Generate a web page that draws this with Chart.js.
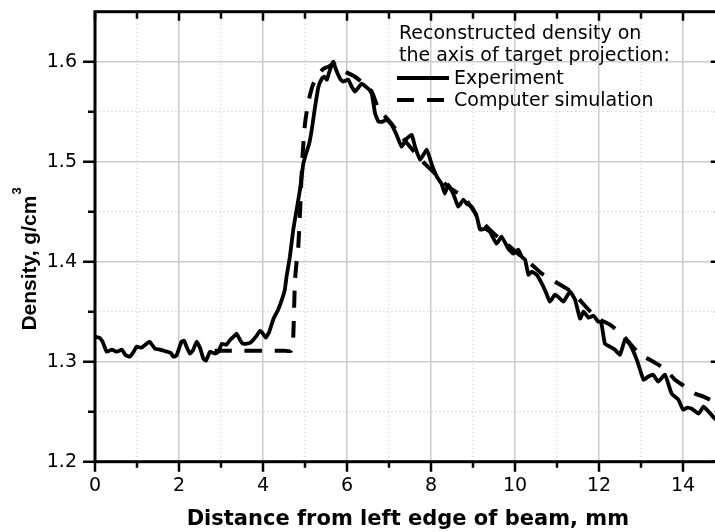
<!DOCTYPE html>
<html>
<head>
<meta charset="utf-8">
<script src="https://cdn.jsdelivr.net/npm/chart.js@4/dist/chart.umd.min.js"></script>
<style>
  html, body { margin:0; padding:0; overflow:hidden; background:#fff; }
  #wrap { width:724px; height:532px; position:relative; }
</style>
</head>
<body>
<div id="wrap"><canvas id="c"></canvas></div>
<script>
// ---- data ----
const expX = [0.0,0.1,0.18,0.28,0.40,0.52,0.64,0.72,0.83,0.92,0.99,1.11,1.20,1.30,1.43,1.55,1.71,1.80,1.87,1.94,
  2.06,2.12,2.18,2.26,2.34,2.42,2.50,2.58,2.64,2.74,2.86,2.94,3.02,3.13,3.22,3.30,3.37,3.45,3.52,3.61,3.70,3.77,3.85,3.93,
  4.00,4.07,4.15,4.25,4.36,4.45,4.52,4.56,4.64,4.72,4.80,4.88,4.96,5.04,5.10,5.16,5.24,5.32,5.40,5.46,5.52,5.58,5.67,5.73,
  5.79,5.85,5.91,6.03,6.10,6.19,6.27,6.35,6.45,6.53,6.59,6.67,6.75,6.85,6.94,7.06,7.18,7.30,7.42,7.54,7.62,7.74,7.90,
  8.02,8.14,8.25,8.33,8.41,8.53,8.65,8.77,8.85,8.97,9.09,9.17,9.29,9.40,9.56,9.68,9.84,9.96,10.08,10.16,10.24,10.32,10.40,
  10.52,10.64,10.73,10.83,10.95,11.05,11.15,11.31,11.43,11.55,11.63,11.75,11.87,11.98,12.05,12.14,12.26,12.38,12.50,12.62,
  12.74,12.90,13.06,13.17,13.29,13.41,13.57,13.73,13.89,14.00,14.10,14.21,14.37,14.49,14.61,14.76,14.85];
const expY = [1.325,1.324,1.320,1.310,1.312,1.310,1.312,1.307,1.305,1.310,1.315,1.314,1.317,1.320,1.313,1.312,1.310,1.309,1.305,1.306,
  1.320,1.321,1.315,1.308,1.312,1.320,1.314,1.303,1.301,1.310,1.308,1.310,1.318,1.317,1.322,1.325,1.328,1.322,1.318,1.318,1.319,1.322,1.326,1.331,
  1.328,1.324,1.330,1.343,1.352,1.362,1.372,1.385,1.405,1.432,1.452,1.472,1.498,1.510,1.518,1.532,1.555,1.575,1.583,1.585,1.582,1.590,1.600,1.593,
  1.587,1.582,1.580,1.582,1.576,1.570,1.574,1.578,1.575,1.572,1.568,1.548,1.540,1.540,1.542,1.537,1.527,1.515,1.523,1.527,1.515,1.502,1.512,
  1.497,1.485,1.478,1.468,1.477,1.468,1.455,1.462,1.458,1.455,1.445,1.432,1.433,1.430,1.418,1.425,1.413,1.408,1.412,1.405,1.402,1.387,1.390,
  1.387,1.378,1.370,1.360,1.367,1.364,1.360,1.370,1.362,1.343,1.350,1.344,1.346,1.340,1.340,1.318,1.315,1.312,1.307,1.322,
  1.317,1.302,1.282,1.285,1.287,1.280,1.287,1.268,1.262,1.252,1.254,1.253,1.248,1.255,1.250,1.243,1.240];

const simX = [2.85,3.5,4.0,4.5,4.68,4.72,4.76,4.80,4.84,4.88,4.94,5.00,5.06,5.12,5.20,5.32,5.44,5.56,5.68,5.80,5.95,
  6.19,6.40,6.59,6.75,7.02,7.30,7.60,7.85,8.10,8.40,8.77,9.17,9.50,9.80,10.10,10.40,10.64,10.95,11.27,11.47,11.75,11.98,
  12.26,12.58,12.70,13.01,13.21,13.41,13.61,13.81,14.05,14.29,14.49,14.73,14.85];
const simY = [1.311,1.311,1.311,1.311,1.311,1.325,1.380,1.400,1.415,1.448,1.505,1.538,1.555,1.567,1.578,1.587,1.593,1.595,1.598,1.594,1.590,
  1.585,1.578,1.570,1.553,1.540,1.525,1.510,1.498,1.488,1.475,1.465,1.442,1.428,1.418,1.407,1.397,1.388,1.380,1.372,1.365,1.352,1.343,
  1.337,1.326,1.320,1.306,1.302,1.297,1.291,1.282,1.275,1.268,1.265,1.260,1.257];

const seriesNames = ['Experiment', 'Computer simulation'];
const legendHeader = ['Reconstructed density on', 'the axis of target projection:'];
const xTitle = 'Distance from left edge of beam, mm';
const yTitleMain = 'Density, g/cm';
const yTitleSup = '3';
const xMinorTicks = [1,3,5,7,9,11,13];
const yMinorTicks = [1.25,1.35,1.45,1.55];
const xAllTicks = [0,1,2,3,4,5,6,7,8,9,10,11,12,13,14];
const yAllTicks = [1.2,1.25,1.3,1.35,1.4,1.45,1.5,1.55,1.6];

const expData = expX.map((x,i)=>({x, y: expY[i]}));
const simData = simX.map((x,i)=>({x, y: simY[i]}));

const TEXT_FONT = 'DejaVu Sans';

const decor = {
  id: 'decor',
  beforeDatasetsDraw(chart) {
    const {ctx, chartArea: a, scales: {x, y}} = chart;
    ctx.save();
    ctx.strokeStyle = '#cfcfcf';
    ctx.lineWidth = 1;
    ctx.setLineDash([1.5, 2.5]);
    ctx.beginPath();
    xMinorTicks.forEach(v => { const p = x.getPixelForValue(v); ctx.moveTo(p, a.top); ctx.lineTo(p, a.bottom); });
    yMinorTicks.forEach(v => { const p = y.getPixelForValue(v); ctx.moveTo(a.left, p); ctx.lineTo(a.right, p); });
    ctx.stroke();
    ctx.restore();
  },
  afterDatasetsDraw(chart) {
    const {ctx, chartArea: a, scales: {x, y}} = chart;
    ctx.save();
    // frame
    ctx.strokeStyle = '#000';
    ctx.lineWidth = 3;
    ctx.setLineDash([]);
    ctx.strokeRect(a.left, a.top, a.right - a.left, a.bottom - a.top);
    // ticks
    ctx.lineWidth = 2.5;
    ctx.beginPath();
    xAllTicks.forEach(v => {
      const p = x.getPixelForValue(v);
      const major = v % 2 === 0;
      ctx.moveTo(p, a.bottom); ctx.lineTo(p, a.bottom + (major ? 10 : 6));   // bottom, outward
      ctx.moveTo(p, a.top); ctx.lineTo(p, a.top + (major ? 9 : 7));          // top, inward
    });
    yAllTicks.forEach((v, i) => {
      const p = y.getPixelForValue(v);
      const major = i % 2 === 0;
      ctx.moveTo(a.left, p); ctx.lineTo(a.left - (major ? 12 : 7), p);       // left, outward
      ctx.moveTo(a.right, p); ctx.lineTo(a.right - (major ? 10 : 6), p);     // right, inward
    });
    ctx.stroke();

    // legend
    ctx.fillStyle = '#000';
    ctx.font = `19px "${TEXT_FONT}"`;
    ctx.textBaseline = 'middle';
    ctx.textAlign = 'left';
    ctx.fillText(legendHeader[0], 399, 34);
    ctx.fillText(legendHeader[1], 399, 56);
    const ds = chart.data.datasets;
    const rows = [78, 100];
    ds.forEach((d, i) => {
      ctx.save();
      ctx.strokeStyle = d.borderColor;
      ctx.lineWidth = d.borderWidth;
      ctx.setLineDash(d.borderDash || []);
      ctx.beginPath();
      ctx.moveTo(397, rows[i]); ctx.lineTo(449, rows[i]);
      ctx.stroke();
      ctx.restore();
      ctx.fillText(d.label, 454, rows[i] + 1);
    });

    // y-axis title with superscript
    ctx.save();
    ctx.translate(36, 259);
    ctx.rotate(-Math.PI / 2);
    ctx.textBaseline = 'alphabetic';
    ctx.textAlign = 'left';
    const mainFont = 'bold 21px "Liberation Sans"';
    const supFont = 'bold 13px "Liberation Sans"';
    ctx.font = mainFont;
    const w1 = ctx.measureText(yTitleMain).width;
    ctx.font = supFont;
    const w2 = ctx.measureText(yTitleSup).width;
    const start = -(w1 + w2 + 1) / 2;
    ctx.font = mainFont;
    ctx.fillText(yTitleMain, start, 0);
    ctx.font = supFont;
    ctx.fillText(yTitleSup, start + w1 + 1, -15);
    ctx.restore();

    ctx.restore();
  }
};

new Chart(document.getElementById('c'), {
  type: 'line',
  data: {
    datasets: [
      { label: seriesNames[0], data: expData, borderColor: '#000', borderWidth: 3.8, pointRadius: 0,
        tension: 0.12, fill: false, borderJoinStyle: 'round' },
      { label: seriesNames[1], data: simData, borderColor: '#000', borderWidth: 4, pointRadius: 0,
        tension: 0.2, fill: false, borderDash: [17, 13] }
    ]
  },
  options: {
    responsive: true,
    maintainAspectRatio: false,
    animation: false,
    layout: { padding: { top: 11.7, right: 3.2, bottom: 0, left: 0 } },
    plugins: { legend: { display: false }, tooltip: { enabled: false }, title: { display: false } },
    scales: {
      x: {
        type: 'linear', position: 'bottom', min: 0, max: 14.9,
        ticks: { stepSize: 2, includeBounds: false, padding: 13, color: '#000', maxRotation: 0, autoSkip: false,
                 font: { family: TEXT_FONT, size: 19 }, callback: v => String(v) },
        grid: { color: '#cccccc', lineWidth: 1.5, drawTicks: false },
        border: { display: false },
        title: { display: true, text: xTitle, color: '#000',
                 font: { family: TEXT_FONT, size: 21, weight: 'bold' }, padding: { top: 0, bottom: 0 } },
        afterFit(s) { s.height = 70.3; }
      },
      y: {
        type: 'linear', position: 'left', min: 1.2, max: 1.65,
        ticks: { stepSize: 0.1, includeBounds: false, padding: 18, color: '#000',
                 font: { family: TEXT_FONT, size: 19 }, callback: v => Number(v).toFixed(1) },
        grid: { color: '#cccccc', lineWidth: 1.5, drawTicks: false },
        border: { display: false },
        afterFit(s) { s.width = 95; s.paddingTop = 0; s.paddingBottom = 0; }
      }
    }
  },
  plugins: [decor]
});
</script>
</body>
</html>
